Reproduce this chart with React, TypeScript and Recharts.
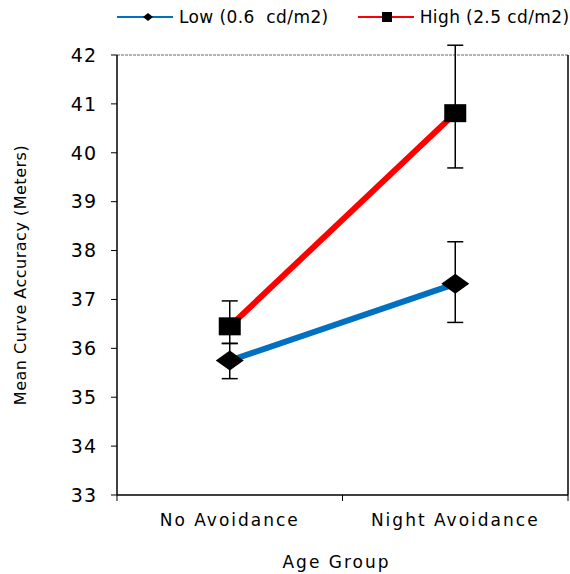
import React from "react";
import {
  LineChart,
  Line,
  XAxis,
  YAxis,
  ErrorBar,
  ReferenceLine,
  Legend,
} from "recharts";

const groups = ["No Avoidance", "Night Avoidance"];

// means and error bar ends
const lowMean = [35.75, 37.32];
const lowMin = [35.38, 36.53];
const lowMax = [36.1, 38.18];

const highMean = [36.45, 40.81];
const highMin = [36.1, 39.69];
const highMax = [36.97, 42.2];

const yTicks = [33, 34, 35, 36, 37, 38, 39, 40, 41, 42];
const seriesNames = ["Low (0.6  cd/m2)", "High (2.5 cd/m2)"];

const data = groups.map((group, i) => ({
  group,
  low: lowMean[i],
  lowErr: [lowMean[i] - lowMin[i], lowMax[i] - lowMean[i]],
  high: highMean[i],
  highErr: [highMean[i] - highMin[i], highMax[i] - highMean[i]],
}));

const FONT = "'DejaVu Sans', Verdana, sans-serif";
const BLUE = "#0070c0";
const RED = "#ff0000";

const Diamond = (props: any) => {
  const { cx, cy, index } = props;
  if (cx == null || cy == null) return <g key={index} />;
  return (
    <path
      key={index}
      d={`M${cx - 14},${cy} L${cx},${cy - 10} L${cx + 14},${cy} L${cx},${cy + 10} Z`}
      fill="#000"
    />
  );
};

const Square = (props: any) => {
  const { cx, cy, index } = props;
  if (cx == null || cy == null) return <g key={index} />;
  return <rect key={index} x={cx - 11} y={cy - 9} width={22} height={18} fill="#000" />;
};

const GroupTick = (props: any) => {
  const { x, y, payload, index } = props;
  const half = payload?.offset ?? 0;
  return (
    <g>
      <line x1={x - half} x2={x - half} y1={y} y2={y + 6} stroke="#000" />
      {index === groups.length - 1 && (
        <line x1={x + half} x2={x + half} y1={y} y2={y + 6} stroke="#000" />
      )}
      <text
        x={x}
        y={y + 31}
        textAnchor="middle"
        fontFamily={FONT}
        fontSize={17}
        letterSpacing={2}
        fill="#000"
      >
        {payload.value}
      </text>
    </g>
  );
};

const LegendContent = () => (
  <div
    style={{
      display: "flex",
      alignItems: "center",
      height: 24,
      paddingLeft: 117,
      fontFamily: FONT,
      fontSize: 17,
      letterSpacing: 0.4,
      color: "#000",
      whiteSpace: "pre",
    }}
  >
    <svg width={56} height={14} style={{ marginRight: 6 }}>
      <line x1={0} x2={56} y1={7} y2={7} stroke={BLUE} strokeWidth={2} />
      <path d="M26,7 L31,3 L36,7 L31,11 Z" fill="#000" />
    </svg>
    <span style={{ marginRight: 29 }}>{seriesNames[0]}</span>
    <svg width={56} height={14} style={{ marginRight: 6 }}>
      <line x1={0} x2={56} y1={7} y2={7} stroke={RED} strokeWidth={2} />
      <rect x={24} y={2} width={10} height={10} fill="#000" />
    </svg>
    <span>{seriesNames[1]}</span>
  </div>
);

const YLabel = (props: any) => {
  const { viewBox } = props;
  const cx = 20;
  const cy = viewBox.y + viewBox.height / 2;
  return (
    <text
      x={cx}
      y={cy}
      transform={`rotate(-90, ${cx}, ${cy})`}
      textAnchor="middle"
      dominantBaseline="central"
      fontFamily={FONT}
      fontSize={16}
      letterSpacing={0.5}
      fill="#000"
    >
      Mean Curve Accuracy (Meters)
    </text>
  );
};

const XLabel = (props: any) => {
  const { viewBox } = props;
  const cx = viewBox.x + viewBox.width / 2 - 6;
  return (
    <text
      x={cx}
      y={viewBox.y + viewBox.height - 6}
      textAnchor="middle"
      fontFamily={FONT}
      fontSize={17}
      letterSpacing={2}
      fill="#000"
    >
      Age Group
    </text>
  );
};

const App = () => {
  return (
    <div style={{ position: "absolute", left: 0, top: 0, background: "#fff" }}>
      <LineChart
        width={570}
        height={574}
        data={data}
        margin={{ top: 31, right: 1, bottom: 0, left: 0 }}
      >
        <Legend
          verticalAlign="top"
          align="left"
          content={<LegendContent />}
          wrapperStyle={{ top: 5, left: 0, width: 570, height: 24 }}
        />
        <XAxis
          dataKey="group"
          scale="band"
          height={79}
          tickLine={false}
          tickSize={0}
          tickMargin={0}
          axisLine={{ stroke: "#000", strokeWidth: 1.5 }}
          tick={<GroupTick />}
          interval={0}
          label={<XLabel />}
        />
        <YAxis
          width={117}
          domain={[33, 42]}
          allowDataOverflow
          ticks={yTicks}
          interval={0}
          tickSize={6}
          tickMargin={14}
          axisLine={{ stroke: "#000", strokeWidth: 1.5 }}
          tickLine={{ stroke: "#000" }}
          tick={{ fill: "#000", fontFamily: FONT, fontSize: 19, letterSpacing: 1 }}
          label={<YLabel />}
        />
        <YAxis
          yAxisId="right"
          orientation="right"
          width={1}
          domain={[33, 42]}
          allowDataOverflow
          tick={false}
          tickLine={false}
          axisLine={{ stroke: "#000", strokeWidth: 1.5 }}
        />
        <ReferenceLine y={42} stroke="#9a9a9a" strokeWidth={1.5} strokeDasharray="3 1" />
        <Line
          dataKey="low"
          stroke={BLUE}
          strokeWidth={6}
          dot={Diamond}
          activeDot={false}
          isAnimationActive={false}
        >
          <ErrorBar dataKey="lowErr" width={8} strokeWidth={1.5} stroke="#000" />
        </Line>
        <Line
          dataKey="high"
          stroke={RED}
          strokeWidth={6}
          dot={Square}
          activeDot={false}
          isAnimationActive={false}
        >
          <ErrorBar dataKey="highErr" width={8} strokeWidth={1.5} stroke="#000" />
        </Line>
      </LineChart>
    </div>
  );
};

export default App;
